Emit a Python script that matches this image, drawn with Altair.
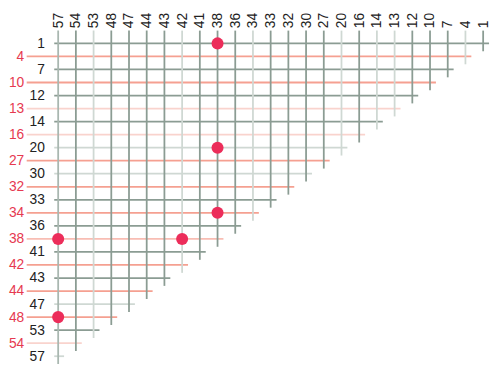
import altair as alt
import pandas as pd

# Row values (top to bottom) and column values (left to right)
rows = ["1", "4", "7", "10", "12", "13", "14", "16", "20", "27", "30", "32", "33",
        "34", "36", "38", "41", "42", "43", "44", "47", "48", "53", "54", "57"]
cols = list(reversed(rows))

# line tone for each row (horizontal line) and each column (vertical line)
row_tone = ["dark", "red", "dark", "red", "dark", "redlight", "dark", "redlight",
            "light", "red", "light", "red", "dark", "red", "dark", "redmid",
            "dark", "red", "dark", "red", "light", "red", "dark", "redlight", "light"]
col_tone = ["mid", "dark", "light", "dark", "dark", "dark", "dark", "light", "dark",
            "dark", "dark", "light", "dark", "dark", "dark", "dark", "light", "dark",
            "light", "light", "dark", "dark", "dark", "light", "dark"]

# highlighted cells (column value, row value)
pt_col = ["38", "38", "38", "57", "42", "57"]
pt_row = ["1", "20", "34", "38", "38", "48"]

ri = {v: i for i, v in enumerate(rows)}
ci = {v: i for i, v in enumerate(cols)}

hdf = pd.DataFrame({"v": rows, "tone": row_tone})
hdf["yi"] = hdf["v"].map(ri)
hdf["xi"] = hdf["v"].map(ci)
hdf["red"] = hdf["yi"] % 2 == 1
vdf = pd.DataFrame({"v": cols, "tone": col_tone})
vdf["yi"] = vdf["v"].map(ri)
vdf["xi"] = vdf["v"].map(ci)
pdf = pd.DataFrame({"c": pt_col, "r": pt_row})
pdf["xi"] = pdf["c"].map(ci)
pdf["yi"] = pdf["r"].map(ri)

tones = ["dark", "mid", "light", "red", "redmid", "redlight"]
tone_colors = ["#8b9c93", "#a9b7b0", "#cfd8d3", "#f5a091", "#f8bdb3", "#f9d3cd"]
color = alt.Color("tone:N", scale=alt.Scale(domain=tones, range=tone_colors), legend=None)

FONT = "Liberation Sans"
W, H = 442, 340
xscale = alt.Scale(domain=[-4 / 18.0, 24 + 6 / 18.0], nice=False, zero=False)
yscale = alt.Scale(domain=[-13 / 13.25, 24 + 9 / 13.25], nice=False, zero=False, reverse=True)

col_arr = "[" + ",".join("'%s'" % c for c in cols) + "]"
row_arr = "[" + ",".join("'%s'" % r for r in rows) + "]"
red_test = "datum.value % 2 == 1"

xaxis = alt.Axis(orient="top", values=list(range(len(cols))), labelExpr=col_arr + "[datum.value]",
                 labelAngle=-90, domain=False, ticks=False, grid=False, title=None,
                 labelPadding=3, labelFont=FONT, labelFontSize=14, labelColor="#222222",
                 labelOverlap=False, labelFlush=False, labelBound=False)
yaxis = alt.Axis(orient="left", values=list(range(len(rows))), labelExpr=row_arr + "[datum.value]",
                 domain=False, ticks=False, grid=False, title=None,
                 labelFont=FONT, labelFontSize=14, labelBaseline="middle", labelAlign="right",
                 labelOverlap=False, labelFlush=False, labelBound=False,
                 labelColor={"condition": {"test": red_test, "value": "#e63950"}, "value": "#222222"},
                 labelPadding={"condition": {"test": red_test, "value": 31}, "value": 10})

vert = alt.Chart(vdf).mark_rule(strokeWidth=1.8, yOffset=8).encode(
    x=alt.X("xi:Q", scale=xscale, axis=xaxis),
    y=alt.Y("yi:Q", scale=yscale, axis=yaxis),
    y2=alt.value(0),
    color=color,
)

h_black = alt.Chart(hdf).transform_filter("!datum.red").mark_rule(strokeWidth=1.8, xOffset=6).encode(
    y=alt.Y("yi:Q", scale=yscale, axis=yaxis),
    x=alt.X("xi:Q", scale=xscale, axis=xaxis),
    x2=alt.value(0),
    color=color,
)

h_red = alt.Chart(hdf).transform_filter("datum.red").mark_rule(strokeWidth=1.8, xOffset=6).encode(
    y=alt.Y("yi:Q", scale=yscale, axis=yaxis),
    x=alt.X("xi:Q", scale=xscale, axis=xaxis),
    x2=alt.value(-28),
    color=color,
)

dots = alt.Chart(pdf).mark_circle(size=150, opacity=1, color="#ec2d5a").encode(
    x=alt.X("xi:Q", scale=xscale, axis=xaxis),
    y=alt.Y("yi:Q", scale=yscale, axis=yaxis),
)

chart = alt.layer(h_red, h_black, vert, dots).properties(
    width=W, height=H,
    background="white",
    autosize=alt.AutoSizeParams(type="none"),
    padding={"left": 47, "top": 20, "right": 3, "bottom": 0},
).configure_view(strokeWidth=0, stroke="transparent")

chart.save("out.html", embed_options={"renderer": "svg", "actions": False})
